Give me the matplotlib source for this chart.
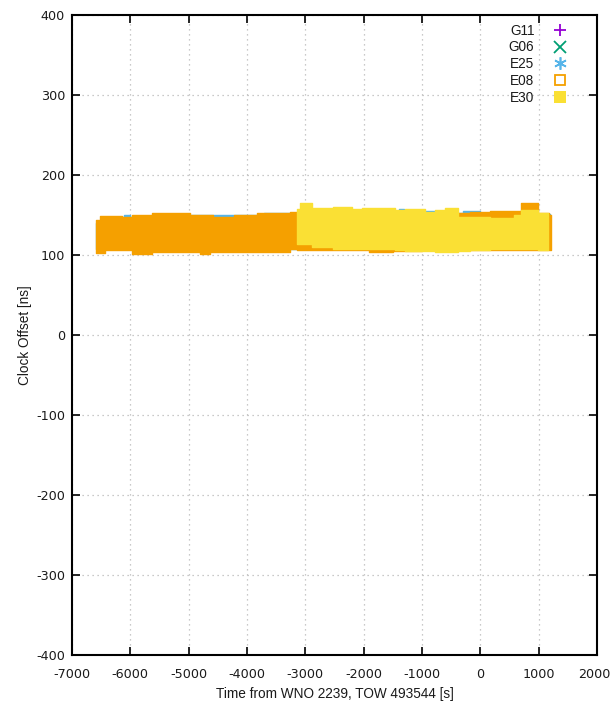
import matplotlib
matplotlib.use("Agg")
import matplotlib.pyplot as plt
from matplotlib.lines import Line2D
from matplotlib.transforms import ScaledTranslation

plt.rcParams['font.family'] = ['Liberation Sans', 'DejaVu Sans']
plt.rcParams['axes.unicode_minus'] = False

# ---- data (envelopes of the dense scatter bands) ----
series_names = ["G11", "G06", "E25", "E08", "E30"]

# G11 / G06: hidden under other series
g11_t, g11_lo, g11_hi = [], [], []
g06_t, g06_lo, g06_hi = [], [], []

e25_t  = [-6580, -6300, -6100, -6000, -5600, -4500, -4300, -4000, -3700, -3300, -3140,
          -2000, -1400, -1300, -900, -700, -300, 0, 600, 1000, 1150, 1195]
e25_hi = [140, 147, 149.5, 148, 150, 149.5, 149.5, 150, 152.5, 152, 150,
          152, 157.5, 155, 155.5, 153, 155, 152, 150, 150, 151.5, 150]
e25_lo = [108, 108, 108, 108, 108, 108, 108, 108, 108, 108, 108,
          108, 108, 108, 108, 108, 108, 108, 108, 108, 108, 108]

e08_t  = [-6580, -6520, -6430, -6140, -6040, -5970, -5620, -4970, -4800, -4630, -4580,
          -4230, -3820, -3260, -3140, -2880, -2520, -2200, -1900, -1500, -1000, -600,
          -390, -170, 170, 570, 690, 980, 1170, 1210]
e08_hi = [144, 149, 149, 148, 148, 150, 152, 150, 150, 150, 148,
          149.5, 152, 154, 154, 152, 152, 152, 152, 152, 152, 152,
          153, 154, 155, 155, 164.5, 152, 150, 150]
e08_lo = [103, 103, 106, 106, 106, 101, 104, 104, 101, 104, 104,
          104, 104, 107, 106, 106, 106.5, 106, 104, 105, 106, 106,
          106, 106, 106, 106, 106, 106, 106, 106]

e30_t  = [-3140, -3090, -2880, -2520, -2200, -2020, -1460, -1290, -940, -770, -600,
          -390, -170, 170, 570, 690, 980, 1165]
e30_hi = [158, 165, 159, 160.5, 158, 159, 156, 158, 154, 156, 159,
          148, 148, 146, 150, 156, 152, 152]
e30_lo = [114, 114, 110, 108, 108, 108, 106, 105, 105, 104, 104,
          105, 106, 108, 108, 108, 106, 106]

colors = {"G11": "#9400D3", "G06": "#009E73", "E25": "#56B4E9",
          "E08": "#F5A000", "E30": "#FAE034"}
markers = {"G11": dict(marker='+', markerfacecolor='none', markersize=9, markeredgewidth=1.3),
           "G06": dict(marker='x', markerfacecolor='none', markersize=8, markeredgewidth=1.3),
           "E25": dict(marker=(6, 2, 0), markerfacecolor='none', markersize=9, markeredgewidth=1.2),
           "E08": dict(marker='s', markerfacecolor='none', markersize=7, markeredgewidth=1.3),
           "E30": dict(marker='s', markersize=8, markeredgewidth=0)}

bands = {"G11": (g11_t, g11_lo, g11_hi), "G06": (g06_t, g06_lo, g06_hi),
         "E25": (e25_t, e25_lo, e25_hi), "E08": (e08_t, e08_lo, e08_hi),
         "E30": (e30_t, e30_lo, e30_hi)}

x_ticks = [-7000, -6000, -5000, -4000, -3000, -2000, -1000, 0, 1000, 2000]
y_ticks = [-400, -300, -200, -100, 0, 100, 200, 300, 400]

fig = plt.figure(figsize=(6.12, 7.05), dpi=100)
ax = fig.add_axes([0.1176, 0.0709, 0.8579, 0.9078])

for name in series_names:
    t, lo, hi = bands[name]
    if len(t):
        ax.fill_between(t, lo, hi, step='post', color=colors[name], linewidth=1.0,
                        edgecolor=colors[name], zorder=2)

ax.set_xlim(-7000, 2000)
ax.set_ylim(-400, 400)
ax.set_xticks(x_ticks)
ax.set_yticks(y_ticks)
ax.grid(True, color='#b8b8b8', linestyle=(0, (1, 3)), linewidth=0.9, zorder=0)
ax.set_axisbelow(True)
ax.tick_params(direction='in', length=6, width=1.2, top=True, right=True, labelsize=9.2)
ax.tick_params(axis='x', pad=9)
ax.tick_params(axis='y', pad=5)
for lab in ax.get_xticklabels() + ax.get_yticklabels():
    lab.set_family('DejaVu Sans')
    lab.set_color('#1a1a1a')
# keep the last x tick label inside the canvas
last = ax.get_xticklabels()[-1]
last.set_transform(last.get_transform() + ScaledTranslation(-3 / 100, 0, fig.dpi_scale_trans))
for s in ax.spines.values():
    s.set_linewidth(1.5)
ax.set_xlabel("Time from WNO 2239, TOW 493544 [s]", fontsize=9.8, labelpad=4.5, color='#1a1a1a')
ax.set_ylabel("Clock Offset [ns]", fontsize=9.8, labelpad=3, color='#1a1a1a')

handles = [Line2D([], [], linestyle='none', color=colors[n], **markers[n]) for n in series_names]
leg = ax.legend(handles, series_names, loc='upper right', bbox_to_anchor=(0.943, 0.9864),
                markerfirst=False, frameon=False, fontsize=9.8, handlelength=1.0,
                handletextpad=1.4, labelspacing=0.2, borderaxespad=0, borderpad=0)
for txt in leg.get_texts():
    txt.set_ha('right')
    txt.set_color('#1a1a1a')

fig.savefig("out.png", dpi=100)
